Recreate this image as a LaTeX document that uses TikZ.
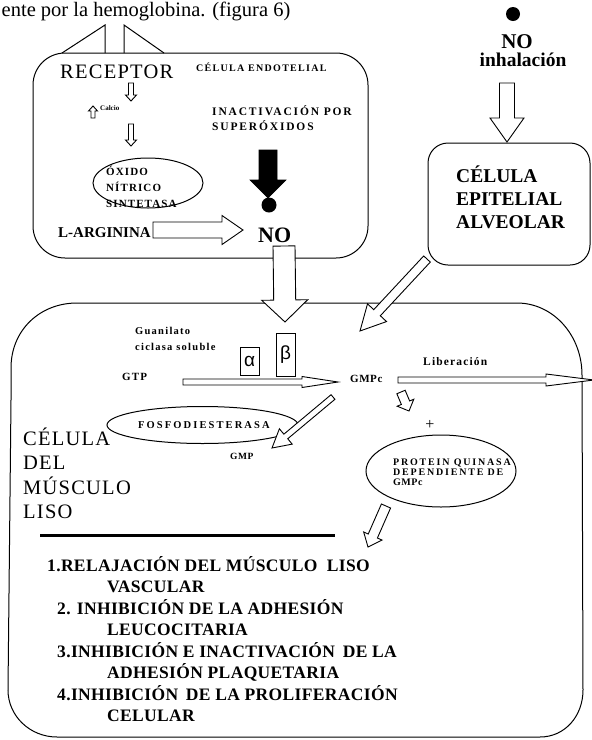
\documentclass[tikz,border=0pt]{standalone}
\usepackage{fontspec}
\setmainfont{Liberation Serif}
\newfontfamily\grkfont{Liberation Sans}
\usetikzlibrary{calc,shapes.geometric}
% block arrow: [style]{start}{end}{shaft half width}{head half width}{head length}
\newcommand{\barrow}[6][]{%
  \coordinate (ba-h) at ($(#3)!#6!(#2)$);
  \draw[#1] ($(#2)!#4!90:(#3)$) -- ($(ba-h)!#4!90:(#3)$) -- ($(ba-h)!#5!90:(#3)$) -- (#3)
    -- ($(ba-h)!#5!-90:(#3)$) -- ($(ba-h)!#4!-90:(#3)$) -- ($(#2)!#4!-90:(#3)$) -- cycle;
}
\begin{document}
\begin{tikzpicture}[x=1pt,y=-1pt,
  lbl/.style={inner sep=0pt, anchor=base west},
  lblc/.style={inner sep=0pt, anchor=base},
  boxline/.style={draw, line width=1pt},
  harrow/.style={draw, fill=white, line width=0.9pt, line join=miter},
  onsb/.style={font=\fontsize{11}{12}\selectfont\bfseries\addfontfeatures{LetterSpace=10}},
  bigr/.style={font=\fontsize{20.5}{24}\selectfont\addfontfeatures{LetterSpace=6}},
  bigb/.style={font=\fontsize{19.5}{24}\selectfont\bfseries},
  resb/.style={font=\fontsize{17.5}{21}\selectfont\bfseries\addfontfeatures{LetterSpace=2}}]
\useasboundingbox (0,0) rectangle (592,740);
\clip (0,0) rectangle (592,740);

% ---- top text
\node[lbl, font=\fontsize{20.5}{24}\selectfont] (toptext) at (1.5,16.5) {ente por la hemoglobina. (figura 6)};

% ---- muscle cell box
\draw[boxline] (11,400) -- (11,368) .. controls (11,330) and (40,303) .. (77,303) -- (517,303)
  .. controls (553,303) and (582,335) .. (582,375) -- (583,690) .. controls (583,716) and (565,737) .. (540,737)
  -- (57,737) .. controls (30,737) and (8,716) .. (8,690) -- cycle;

% ---- endothelial box
\node[boxline, rounded corners=32pt, minimum width=335pt, minimum height=205pt, inner sep=0pt] (endo) at (200.5,155.5) {};
% receptor
\draw[line width=1pt] (62,53) -- (105,25) -- (105,53);
\draw[line width=1pt] (124,53) -- (124,25) -- (164,53);

% ---- epithelial box
\node[boxline, rounded corners=20pt, minimum width=162pt, minimum height=122pt, inner sep=0pt] (epi) at (509,204) {};
\node[lbl, bigb] (epi1) at (456,182) {CÉLULA};
\node[lbl, bigb] (epi2) at (456,205) {EPITELIAL};
\node[lbl, bigb] (epi3) at (456,228) {ALVEOLAR};

% ---- NO inhalation
\fill (513,14) circle (7);
\node[lblc, font=\fontsize{21}{24}\selectfont\bfseries] (noinh) at (517,48) {NO};
\node[lblc, font=\fontsize{19.5}{24}\selectfont\bfseries] (inh) at (523,66) {inhalación};
\coordinate (inhA) at (507,83); \coordinate (inhB) at (507,142);
\barrow[harrow]{inhA}{inhB}{7.5pt}{17pt}{24pt}

% ---- endothelial contents
\node[lbl, bigr] (rec) at (60,78) {RECEPTOR};
\node[lbl, font=\fontsize{10}{12}\selectfont\bfseries\addfontfeatures{LetterSpace=13}] (endotxt) at (196,71) {CÉLULA ENDOTELIAL};
\coordinate (ra1) at (131,83); \coordinate (ra2) at (131,101);
\barrow[harrow]{ra1}{ra2}{2.5pt}{5.5pt}{6pt}
\coordinate (ca1) at (93,118); \coordinate (ca2) at (93,106);
\barrow[harrow]{ca1}{ca2}{2pt}{4.5pt}{5pt}
\node[lbl, font=\fontsize{7}{8}\selectfont\bfseries] (calcio) at (100,110) {Calcio};
\coordinate (rb1) at (131,124); \coordinate (rb2) at (131,146);
\barrow[harrow]{rb1}{rb2}{2.5pt}{5.5pt}{6pt}
\node[draw, line width=1pt, ellipse, minimum width=110pt, minimum height=50pt] (ons) at (148,183) {};
\node[lbl, onsb] (ons1) at (106,175) {ÓXIDO};
\node[lbl, onsb] (ons2) at (106,191) {NÍTRICO};
\node[lbl, onsb] (ons3) at (106,207) {SINTETASA};
\node[lbl, font=\fontsize{11.5}{13}\selectfont\bfseries\addfontfeatures{LetterSpace=16}] (inac1) at (212,115) {INACTIVACIÓN POR};
\node[lbl, font=\fontsize{11.5}{13}\selectfont\bfseries\addfontfeatures{LetterSpace=16}] (inac2) at (212,130) {SUPERÓXIDOS};
\coordinate (supA) at (268,150); \coordinate (supB) at (268,198);
\barrow[draw=black, fill=black, line width=0.6pt]{supA}{supB}{9pt}{18pt}{18pt}
\fill (269,205) circle (7.5);
\node[lbl, font=\fontsize{15}{18}\selectfont\bfseries] (larg) at (58,237) {L-ARGININA};
\coordinate (laA) at (153,230); \coordinate (laB) at (243,230);
\barrow[harrow]{laA}{laB}{8pt}{14.5pt}{21pt}
\node[lbl, font=\fontsize{22}{24}\selectfont\bfseries] (no) at (258,242) {NO};

% ---- NO into muscle
\coordinate (nmA) at (284,246); \coordinate (nmB) at (285,322);
\barrow[harrow]{nmA}{nmB}{11pt}{23pt}{22pt}
% ---- epithelial to muscle
\coordinate (emA) at (427,259); \coordinate (emB) at (360,331);
\barrow[harrow]{emA}{emB}{4.5pt}{13pt}{25pt}

% ---- muscle contents
\node[lbl, font=\fontsize{10.5}{12}\selectfont\bfseries\addfontfeatures{LetterSpace=12}] (gua1) at (135,334) {Guanilato};
\node[lbl, font=\fontsize{10.5}{12}\selectfont\bfseries\addfontfeatures{LetterSpace=12}] (gua2) at (135,350) {ciclasa soluble};
\node[draw, line width=0.9pt, minimum width=19pt, minimum height=28pt, inner sep=0pt, font=\grkfont\fontsize{19}{20}\selectfont] (alpha) at (249.5,361) {α};
\node[draw, line width=0.9pt, minimum width=19pt, minimum height=43pt, inner sep=0pt, font=\grkfont\fontsize{19}{20}\selectfont] (beta) at (285.5,354.5) {β};
\node[lbl, font=\fontsize{11}{12}\selectfont\bfseries\addfontfeatures{LetterSpace=10}] (gtp) at (122,380) {GTP};
\coordinate (gtA) at (183,382); \coordinate (gtB) at (338,382);
\barrow[harrow]{gtA}{gtB}{3pt}{5.5pt}{36pt}
\node[lbl, font=\fontsize{11}{12}\selectfont\bfseries\addfontfeatures{LetterSpace=5}] (gmpc) at (350,382) {GMPc};
\node[lbl, font=\fontsize{11.5}{12}\selectfont\bfseries\addfontfeatures{LetterSpace=10}] (lib) at (423,365) {Liberación};
\coordinate (libA) at (398,380); \coordinate (libB) at (594,380);
\barrow[harrow]{libA}{libB}{3pt}{6pt}{48pt}
\node[draw, line width=1pt, ellipse, minimum width=191pt, minimum height=37pt] (fos) at (202.5,425) {};
\node[lbl, font=\fontsize{10.5}{12}\selectfont\bfseries\addfontfeatures{LetterSpace=20}] (fostxt) at (138,428) {FOSFODIESTERASA};
\coordinate (gmA) at (333,397); \coordinate (gmB) at (272,448);
\barrow[harrow]{gmA}{gmB}{3pt}{10pt}{18pt}
\node[lbl, font=\fontsize{9.5}{11}\selectfont\bfseries\addfontfeatures{LetterSpace=5}] (gmp) at (230,459) {GMP};
\coordinate (pkA) at (401,392); \coordinate (pkB) at (409,411);
\barrow[harrow]{pkA}{pkB}{4.5pt}{9pt}{9pt}
\node[lblc, font=\fontsize{16}{18}\selectfont] (plus) at (430,429) {+};
\node[draw, line width=1pt, ellipse, minimum width=150pt, minimum height=72pt] (pk) at (441,471) {};
\node[lbl, font=\fontsize{10}{11}\selectfont\bfseries\addfontfeatures{LetterSpace=18}] (pk1) at (393,465) {PROTEIN QUINASA};
\node[lbl, font=\fontsize{10}{11}\selectfont\bfseries\addfontfeatures{LetterSpace=18}] (pk2) at (393,475) {DEPENDIENTE DE};
\node[lbl, font=\fontsize{10}{11}\selectfont\bfseries\addfontfeatures{LetterSpace=5}] (pk3) at (393,485) {GMPc};
\coordinate (reA) at (386,506); \coordinate (reB) at (368,547);
\barrow[harrow]{reA}{reB}{5pt}{10pt}{12pt}

\node[lbl, bigr] (cm1) at (23,445) {CÉLULA};
\node[lbl, bigr] (cm2) at (23,469) {DEL};
\node[lbl, bigr] (cm3) at (23,494) {MÚSCULO};
\node[lbl, bigr] (cm4) at (23,518) {LISO};
\coordinate (barA) at (40,535); \coordinate (barB) at (335,535);
\draw[line width=3pt] (barA) -- (barB);

\node[lbl, resb] (r1) at (47,571) {1.RELAJACIÓN DEL MÚSCULO \ LISO};
\node[lbl, resb] (r1b) at (107,592.5) {VASCULAR};
\node[lbl, resb] (r2) at (57,614) {2. INHIBICIÓN DE LA ADHESIÓN};
\node[lbl, resb] (r2b) at (107,635.5) {LEUCOCITARIA};
\node[lbl, resb] (r3) at (57,657) {3.INHIBICIÓN E INACTIVACIÓN\hspace{3pt} DE LA};
\node[lbl, resb] (r3b) at (107,678.5) {ADHESIÓN PLAQUETARIA};
\node[lbl, resb] (r4) at (57,700) {4.INHIBICIÓN\hspace{3pt} DE LA PROLIFERACIÓN};
\node[lbl, resb] (r4b) at (107,721.5) {CELULAR};
\end{tikzpicture}
\end{document}
